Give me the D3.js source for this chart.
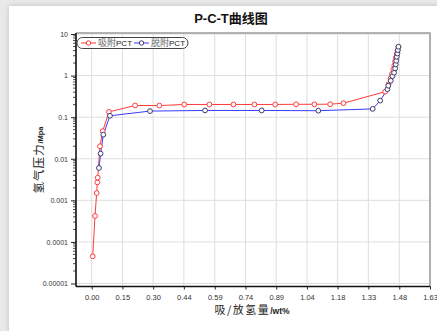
<!DOCTYPE html>
<html>
<head>
<meta charset="utf-8">
<script src="https://cdn.jsdelivr.net/npm/d3@7"></script>
<style>
  body { margin: 0; background: #e9e9e9; }
  #card { position: absolute; left: 9px; top: 6px; width: 440px; height: 340px; background: #fff; box-shadow: 0 0 5px rgba(0,0,0,0.18); }
  svg { position: absolute; left: 0; top: 0; }
</style>
</head>
<body>
<div id="card"></div>
<div id="chart"></div>
<script>
// adsorption (吸附) curve
let absX = [0.005, 0.016, 0.024, 0.027, 0.029, 0.040, 0.053, 0.083, 0.209, 0.326, 0.446, 0.567, 0.683, 0.784, 0.884, 0.985, 1.073, 1.149, 1.213, 1.414, 1.430, 1.440, 1.447, 1.453, 1.458, 1.462, 1.466, 1.470, 1.474, 1.478];
let absP = [0.000045, 0.00042, 0.0015, 0.0027, 0.0035, 0.020, 0.046, 0.134, 0.191, 0.190, 0.202, 0.202, 0.202, 0.202, 0.202, 0.204, 0.204, 0.205, 0.217, 0.41, 0.62, 0.85, 1.1, 1.4, 1.75, 2.2, 2.7, 3.3, 4.0, 4.9];

// desorption (脱附) curve
let desX = [0.035, 0.043, 0.056, 0.088, 0.281, 0.546, 0.819, 1.092, 1.354, 1.390, 1.425, 1.429, 1.441, 1.449, 1.457, 1.462, 1.465, 1.467, 1.470, 1.473, 1.475, 1.478];
let desP = [0.006, 0.0133, 0.038, 0.108, 0.140, 0.145, 0.145, 0.143, 0.158, 0.25, 0.47, 0.57, 0.75, 0.97, 1.17, 1.49, 1.86, 2.27, 2.84, 3.4, 4.1, 4.94];

let xTicks = [0, 0.148, 0.296, 0.444, 0.593, 0.741, 0.889, 1.037, 1.185, 1.333, 1.482, 1.63];
let xTickLabels = ["0.00", "0.15", "0.30", "0.44", "0.59", "0.74", "0.89", "1.04", "1.18", "1.33", "1.48", "1.63"];
let yTicks = [0.00001, 0.0001, 0.001, 0.01, 0.1, 1, 10];
let yTickLabels = ["0.00001", "0.0001", "0.001", "0.01", "0.1", "1", "10"];

let svgWidth = 437;
let svgHeight = 331;
let plot = { left: 76, right: 430, top: 33, bottom: 286.5 };

let svg = d3.select("#chart")
    .append("svg")
    .attr("width", svgWidth)
    .attr("height", svgHeight);

let x = d3.scaleLinear().domain([-0.0756, 1.63]).range([plot.left, plot.right]);
let y = d3.scaleLog().domain([0.00001, 10]).range([283.5, 34]);

// gridlines
svg.append("g").selectAll("line")
    .data(xTicks)
    .enter().append("line")
    .attr("x1", d => x(d)).attr("x2", d => x(d))
    .attr("y1", plot.top).attr("y2", plot.bottom)
    .attr("stroke", "#dedede").attr("stroke-width", 1);

svg.append("g").selectAll("line")
    .data(yTicks)
    .enter().append("line")
    .attr("x1", plot.left).attr("x2", plot.right)
    .attr("y1", d => y(d)).attr("y2", d => y(d))
    .attr("stroke", "#dedede").attr("stroke-width", 1);

// frame: grey top/right
svg.append("path")
    .attr("d", `M${plot.left},${plot.top}H${plot.right}V${plot.bottom}`)
    .attr("fill", "none").attr("stroke", "#9a9a9a").attr("stroke-width", 1.5);

// minor ticks on the log axis
let minor = [];
for (let e = -5; e < 1; e++) {
    for (let m = 2; m <= 9; m++) minor.push(m * Math.pow(10, e));
}
svg.append("g").selectAll("line")
    .data(minor)
    .enter().append("line")
    .attr("x1", plot.left - 3).attr("x2", plot.left)
    .attr("y1", d => y(d)).attr("y2", d => y(d))
    .attr("stroke", "#222").attr("stroke-width", 0.8);

// y axis
let leftAxis = d3.axisLeft(y)
    .tickValues(yTicks)
    .tickFormat((d, i) => yTickLabels[i])
    .tickSize(5)
    .tickPadding(3);
let gy = svg.append("g")
    .attr("transform", `translate(${plot.left},0)`)
    .call(leftAxis);
gy.select(".domain").attr("d", `M0,${plot.top}V${plot.bottom}`).attr("stroke", "#111").attr("stroke-width", 1.6);

// x axis
let bottomAxis = d3.axisBottom(x)
    .tickValues(xTicks)
    .tickFormat((d, i) => xTickLabels[i])
    .tickSize(3)
    .tickPadding(5);
let gx = svg.append("g")
    .attr("transform", `translate(0,${plot.bottom})`)
    .call(bottomAxis);
gx.select(".domain").attr("d", `M${plot.left},0H${plot.right}`).attr("stroke", "#111").attr("stroke-width", 1.6);

svg.selectAll(".tick text")
    .attr("font-family", "Arial, 'Liberation Sans', sans-serif")
    .attr("fill", "#333");
gy.selectAll(".tick text").attr("font-size", "7px");
gx.selectAll(".tick text").attr("font-size", "7.5px");
svg.selectAll(".tick line").attr("stroke", "#222");

// lines
let line = d3.line()
    .x(d => x(d[0]))
    .y(d => y(d[1]));

let absData = absX.map((v, i) => [v, absP[i]]);
let desData = desX.map((v, i) => [v, desP[i]]);

svg.append("path")
    .datum(absData)
    .attr("d", line)
    .attr("fill", "none").attr("stroke", "#ff3b3b").attr("stroke-width", 1);

svg.append("path")
    .datum(desData)
    .attr("d", line)
    .attr("fill", "none").attr("stroke", "#3a3aff").attr("stroke-width", 1);

svg.append("g").selectAll("circle")
    .data(absData)
    .enter().append("circle")
    .attr("cx", d => x(d[0]))
    .attr("cy", d => y(d[1]))
    .attr("r", 2.4)
    .attr("fill", "#fff").attr("stroke", "#ff3b3b").attr("stroke-width", 1);

svg.append("g").selectAll("circle")
    .data(desData)
    .enter().append("circle")
    .attr("cx", d => x(d[0]))
    .attr("cy", d => y(d[1]))
    .attr("r", 2.4)
    .attr("fill", "#fff").attr("stroke", "#3b3b6e").attr("stroke-width", 1);

// legend
let legend = svg.append("g");
legend.append("rect")
    .attr("x", 77).attr("y", 37.5).attr("width", 111).attr("height", 11).attr("rx", 5.5)
    .attr("fill", "#fff").attr("stroke", "#444").attr("stroke-width", 1);

let legendItems = [
    { name: "吸附", color: "#ff3b3b", mark: "#ff3b3b", x0: 81 },
    { name: "脱附", color: "#3a3aff", mark: "#3b3b6e", x0: 134 }
];
legendItems.forEach(function(d) {
    legend.append("line")
        .attr("x1", d.x0).attr("x2", d.x0 + 15).attr("y1", 43).attr("y2", 43)
        .attr("stroke", d.color).attr("stroke-width", 1);
    legend.append("circle")
        .attr("cx", d.x0 + 7.5).attr("cy", 43).attr("r", 2.2)
        .attr("fill", "#fff").attr("stroke", d.mark).attr("stroke-width", 1);
    let t = legend.append("text")
        .attr("x", d.x0 + 17).attr("y", 46.3)
        .attr("font-size", "9px").attr("fill", "#666");
    t.append("tspan").attr("font-family", "'Noto Sans CJK SC'").text(d.name);
    t.append("tspan").attr("font-family", "Arial, 'Liberation Sans'").attr("font-size", "8px").attr("fill", "#222").text("PCT");
});

// title
svg.append("text")
    .attr("x", 231).attr("y", 23)
    .attr("text-anchor", "middle")
    .attr("font-family", "Arial, 'Noto Sans CJK SC', sans-serif")
    .attr("font-weight", "bold")
    .attr("font-size", "13px")
    .attr("fill", "#111")
    .text("P-C-T曲线图");

// y axis title
let yt = svg.append("text")
    .attr("transform", "translate(43,160) rotate(-90)")
    .attr("text-anchor", "middle")
    .attr("fill", "#222");
yt.append("tspan").attr("font-family", "'Noto Sans CJK SC'").attr("font-size", "11.5px").attr("letter-spacing", "1px").text("氢气压力");
yt.append("tspan").attr("font-family", "Arial, 'Liberation Sans'").attr("font-weight", "bold").attr("font-size", "7.5px").text("/Mpa");

// x axis title
let xt = svg.append("text")
    .attr("x", 252).attr("y", 314)
    .attr("text-anchor", "middle")
    .attr("fill", "#222");
xt.append("tspan").attr("font-family", "'Noto Sans CJK SC'").attr("font-size", "11px").attr("letter-spacing", "1.5px").text("吸/放氢量");
xt.append("tspan").attr("font-family", "Arial, 'Liberation Sans'").attr("font-weight", "bold").attr("font-size", "8.5px").text("/wt%");
</script>
</body>
</html>
